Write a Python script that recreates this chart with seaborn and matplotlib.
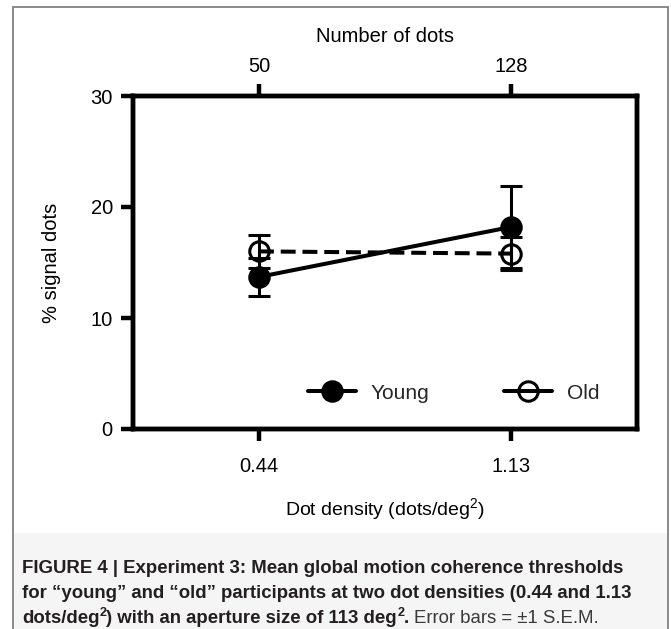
import matplotlib
matplotlib.use("Agg")
import matplotlib.pyplot as plt
import seaborn as sns
import pandas as pd
from matplotlib.patches import Rectangle
from matplotlib.lines import Line2D

sns.set_theme(style="ticks")
plt.rcParams["font.family"] = ["Liberation Sans", "DejaVu Sans"]
plt.rcParams["mathtext.fontset"] = "custom"
plt.rcParams["mathtext.rm"] = "Liberation Sans"
plt.rcParams["mathtext.it"] = "Liberation Sans:italic"
plt.rcParams["mathtext.bf"] = "Liberation Sans:bold"

# data
densities = ["0.44", "1.13"]
dot_counts = ["50", "128"]
groups = ["Young", "Old"]
young_mean = [13.7, 18.2]
young_sem = [1.7, 3.7]
old_mean = [16.0, 15.8]
old_sem = [1.5, 1.5]

df = pd.DataFrame({
    "pos": [0, 1, 0, 1],
    "density": densities * 2,
    "group": ["Young"] * 2 + ["Old"] * 2,
    "mean": young_mean + old_mean,
    "sem": young_sem + old_sem,
})

W, H = 671, 629
fig = plt.figure(figsize=(W / 100, H / 100), dpi=100)
fig.patch.set_facecolor("white")

# caption background + frame
fig.add_artist(Rectangle((13 / W, 0), 655 / W, 1 - 533 / H, transform=fig.transFigure,
                         facecolor="#f5f5f5", edgecolor="none", zorder=0))
fig.add_artist(Rectangle((13 / W, -0.05), 655 / W, 1.05 - 7 / H, transform=fig.transFigure,
                         fill=False, edgecolor="#808080", lw=1.3, zorder=1))

ax = fig.add_axes([133 / W, 1 - 429 / H, 504 / W, 333 / H])
ax.set_facecolor("none")

lw = 2.9
styles = {
    "Young": dict(mfc="black", dashes=None),
    "Old": dict(mfc="none", dashes=(3.7, 1.7)),
}
for g in ["Old", "Young"]:
    sub = df[df.group == g]
    ax.errorbar(sub["pos"], sub["mean"], yerr=sub["sem"], fmt="none", ecolor="black",
                elinewidth=2.2, capsize=8, capthick=2.2, zorder=2)
    sns.lineplot(data=sub, x="pos", y="mean", ax=ax, color="black", lw=lw,
                 marker="o", markersize=14, markerfacecolor=styles[g]["mfc"],
                 markeredgecolor="black", markeredgewidth=2.2, legend=False, zorder=3)
    if styles[g]["dashes"]:
        ax.lines[-1].set_dashes(styles[g]["dashes"])

ax.set_xlim(-0.5, 1.5)
ax.set_ylim(0, 30)
ax.set_xticks([0, 1], densities)
ax.set_yticks([0, 10, 20, 30])
ax.set_xlabel("Dot density (dots/deg$^2$)", fontsize=14, labelpad=14, color="black")
ax.set_ylabel("% signal dots", fontsize=14.5, labelpad=21, color="black")

ax2 = ax.twiny()
ax2.set_xlim(ax.get_xlim())
ax2.set_xticks([0, 1], dot_counts)
ax2.set_xlabel("Number of dots", fontsize=14.5, labelpad=11, color="black")

for a in (ax, ax2):
    for s in a.spines.values():
        s.set_linewidth(3.2)
        s.set_color("black")
    a.tick_params(direction="out", length=8.5, width=3.2, labelsize=14.5,
                  colors="black", pad=6)
ax.tick_params(axis="x", pad=12)

handles = []
for g in groups:
    h = Line2D([], [], color="black", lw=lw, marker="o", markersize=14,
               markerfacecolor=styles[g]["mfc"], markeredgecolor="black",
               markeredgewidth=2.2)
    handles.append(h)
ax.legend(handles, groups, ncol=2, frameon=False, loc="center",
          bbox_to_anchor=(0.636, 0.108), handlelength=2.3, columnspacing=3.6,
          handletextpad=0.7, fontsize=15)

# caption, written piece by piece so bold/regular and superscripts line up
cap_family = ["Liberation Sans"]
cap_size = 13.4
renderer = fig.canvas.get_renderer()


def write_line(x, y, pieces):
    for text, weight, sup in pieces:
        if text == " ":
            x += cap_size * 1.39 * 0.26
            continue
        size = cap_size * 0.68 if sup else cap_size
        yy = y - (7 if sup else 0)
        t = fig.text(x / W, 1 - yy / H, text, fontsize=size, fontweight=weight,
                     family=cap_family, color="#231f20" if weight == "bold" else "#3a3a3a",
                     va="baseline", ha="left")
        x += t.get_window_extent(renderer).width
    return x


write_line(22, 573, [("FIGURE 4 | Experiment 3: Mean global motion coherence thresholds", "bold", False)])
write_line(22, 598, [("for \u201cyoung\u201d and \u201cold\u201d participants at two dot densities (0.44 and 1.13", "bold", False)])
write_line(22, 623, [("dots/deg", "bold", False), ("2", "bold", True),
                     (") with an aperture size of 113 deg", "bold", False), ("2", "bold", True),
                     (".", "bold", False), (" ", None, False),
                     ("Error bars = \u00b11 S.E.M.", "normal", False)])

fig.savefig("out.png", dpi=100)
